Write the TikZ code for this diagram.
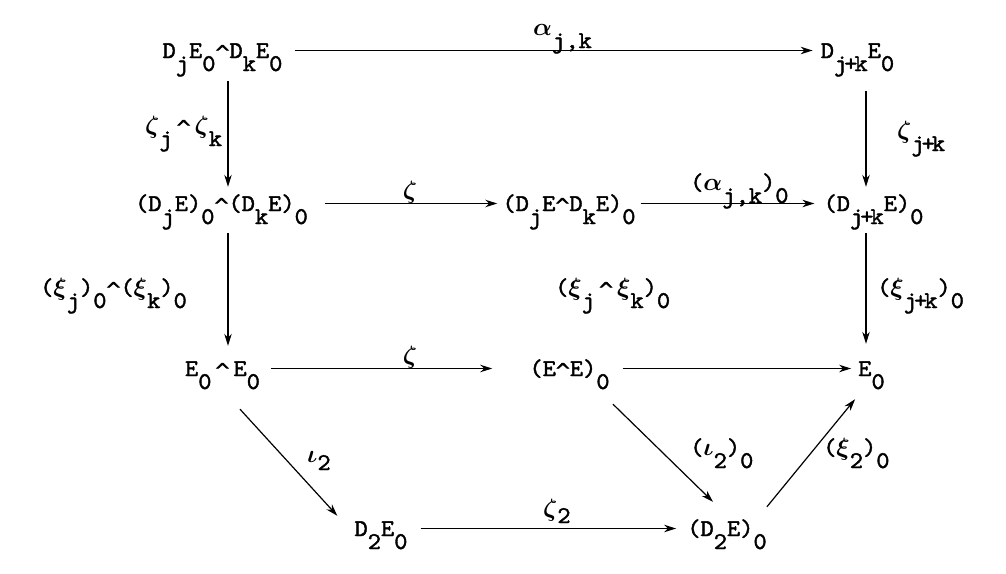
\documentclass[tikz,border=0pt]{standalone}
\usepackage{fontspec}
\setmonofont{lmmono10-regular.otf}[FakeStretch=1.05,FakeBold=1.6]
\newfontfamily\wfont{DejaVu Sans}[FakeBold=3]
\usetikzlibrary{arrows.meta}
\newcommand\sbx[2][13pt]{\raisebox{-#1}{#2}}
\newcommand\wdg{\hbox to 14pt{\hss\raisebox{-1pt}{\wfont\fontsize{19}{19}\selectfont\char"005E}\hss}}
\newcommand\jpk{j\kern-3pt+\kern-3pt k}
\tikzset{
  obj/.style={inner sep=0pt, text height=33pt, text depth=18pt, anchor=center},
  lab/.style={inner sep=0pt, anchor=base west},
  labc/.style={inner sep=0pt, anchor=base},
  arr/.style={-{Stealth[length=12pt,width=7.5pt]}, line width=1.2pt},
}
\begin{document}
\begin{tikzpicture}[x=1pt,y=-1pt,font=\fontsize{24}{28}\selectfont\ttfamily\boldmath]
\useasboundingbox (0,0) rectangle (1006,573);
\coordinate (L) at (228,0);
\coordinate (R) at (866,0);
% nodes
\node[obj] (A) at (222.5,50.5) {D\sbx{j}E\sbx{0}\wdg D\sbx{k}E\sbx{0}};
\node[obj] (B) at (857.5,50.5) {D\sbx{\jpk}E\sbx{0}};
\node[obj] (C) at (221.5,203.5) {(D\sbx{j}E)\sbx{0}\wdg(D\sbx{k}E)\sbx{0}};
\node[obj] (M) at (569,203.5) {(D\sbx{j}E\wdg D\sbx{k}E)\sbx{0}};
\node[obj] (D) at (873.5,203.5) {(D\sbx{\jpk}E)\sbx{0}};
\node[obj] (F) at (222.5,368.5) {E\sbx{0}\kern4pt\wdg\kern4pt E\sbx{0}};
\node[obj] (H) at (569.5,368.5) {(E\wdg E)\sbx{0}};
\node[obj] (G) at (871.5,368.5) {E\sbx{0}};
\node[obj] (I) at (381,528.5) {D\sbx{2}E\sbx{0}};
\node[obj] (J) at (727,528.5) {(D\sbx{2}E)\sbx{0}};
% labels
\node[lab] (la1) at (533,35) {$\alpha$\sbx{j,k}};
\node[lab] (la2) at (145,133) {$\zeta$\sbx{j}\kern4pt\wdg\kern4pt$\zeta$\sbx{k}};
\node[lab] (la3) at (897,138) {$\zeta$\sbx{\jpk}};
\node[labc] (la4) at (410,198) {$\zeta$};
\node[lab] (la5) at (690,190) {($\alpha$\sbx{j,k})\sbx{0}};
\node[lab] (la6) at (40,295) {($\xi$\sbx{j})\sbx{0}\wdg($\xi$\sbx{k})\sbx{0}};
\node[lab] (la7) at (555,295) {($\xi$\sbx{j}\kern4pt\wdg\kern4pt$\xi$\sbx{k})\sbx{0}};
\node[lab] (la8) at (877,295) {($\xi$\sbx{\jpk})\sbx{0}};
\node[labc] (la9) at (410,363) {$\zeta$};
\node[lab] (la10) at (307,462) {$\iota$\sbx[8pt]{2}};
\node[lab] (la11) at (690,455) {($\iota$\sbx{2})\sbx{0}};
\node[lab] (la12) at (823,455) {($\xi$\sbx{2})\sbx{0}};
\node[lab] (la13) at (543,516) {$\zeta$\sbx[7pt]{2}};
% horizontal arrows
\draw[arr, shorten <=12pt, shorten >=8pt] (A) -- (B);
\draw[arr, shorten <=17pt, shorten >=5pt] (C) -- (M);
\draw[arr, shorten <=5pt, shorten >=9pt] (M) -- (D);
\draw[arr, shorten <=11pt, shorten >=37pt] (F) -- (H);
\draw[arr, shorten <=13pt, shorten >=7pt] (H) -- (G);
\draw[arr, shorten <=13pt, shorten >=11pt] (I) -- (J);
% vertical arrows
\draw[arr, shorten <=5pt, shorten >=-9pt] (A.south -| L) -- (C.north -| L);
\draw[arr, shorten <=15pt, shorten >=-9pt] (B.south -| R) -- (D.north -| R);
\draw[arr, shorten <=4pt, shorten >=-3pt] (C.south -| L) -- (F.north -| L);
\draw[arr, shorten <=4pt, shorten >=-1pt] (D.south -| R) -- (G.north -| R);
% diagonal arrows
\draw[arr] ([shift={(17.5,15)}]F.south) -- ([shift={(-17,13)}]I.north west);
\draw[arr] ([shift={(43.5,10)}]H.south) -- ([shift={(-14,-1)}]J.north);
\draw[arr] ([shift={(0,4)}]J.north east) -- ([shift={(-3,5)}]G.south west);
\end{tikzpicture}
\end{document}
